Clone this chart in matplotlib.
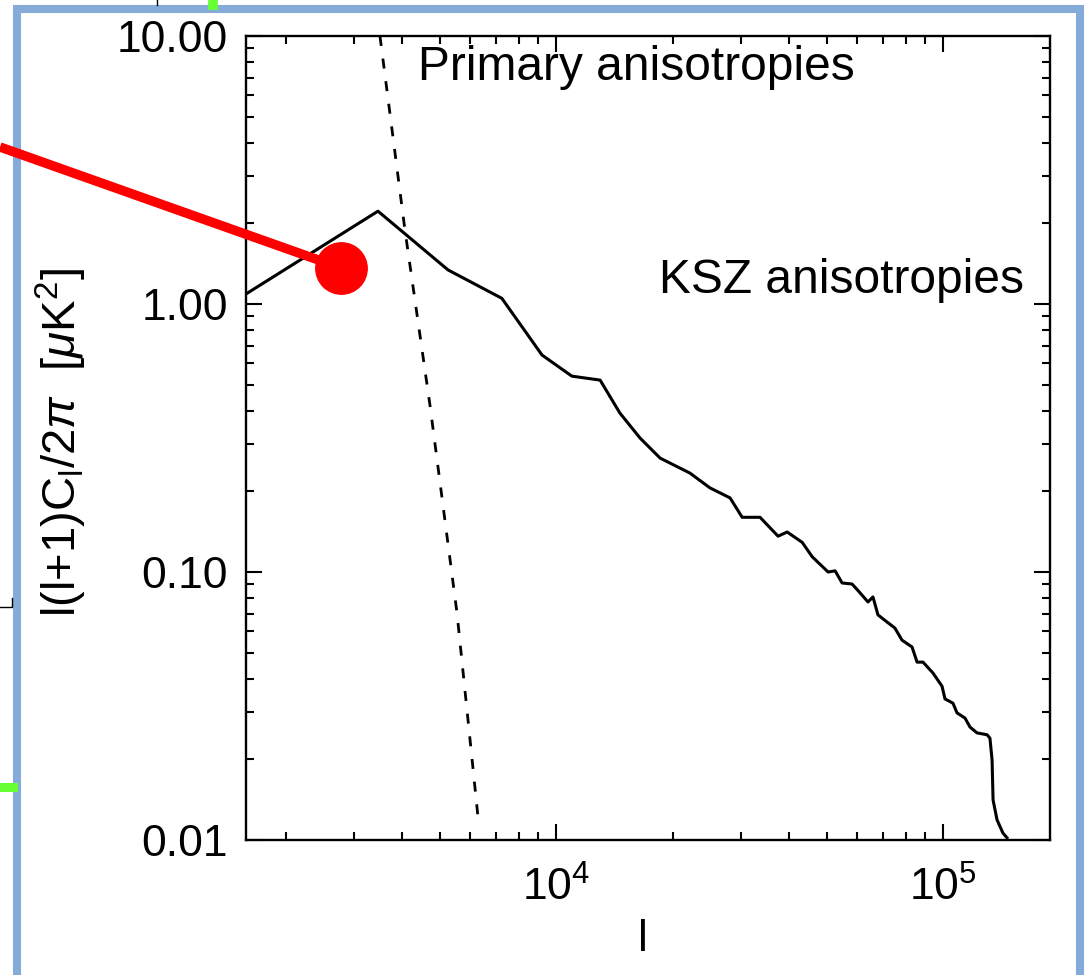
import numpy as np
import matplotlib.pyplot as plt
from matplotlib.lines import Line2D
from matplotlib.ticker import FixedLocator, FuncFormatter, NullFormatter, LogLocator

plt.rcParams['font.family'] = 'Liberation Sans'
plt.rcParams['mathtext.fontset'] = 'custom'
plt.rcParams['mathtext.rm'] = 'Liberation Sans'
plt.rcParams['mathtext.it'] = 'Liberation Sans:italic'

# KSZ spectrum (solid)
ksz_l = [1581, 3467, 5260, 7245, 9200, 10990, 13000, 14620, 16490, 18580,
         22180, 24990, 28170, 30270, 33670, 37480, 39560, 43270, 45920, 50470,
         52630, 54860, 58210, 61100, 63990, 65920, 67900, 71640, 75100, 78340,
         83170, 85700, 88780, 94180, 99400, 101200, 106100, 108700, 114000, 117400,
         122400, 130000, 132200, 133900, 134700, 137900, 142900, 146300]
ksz_cl = [1.09, 2.22, 1.34, 1.05, 0.645, 0.538, 0.520, 0.392, 0.316, 0.266,
          0.234, 0.206, 0.189, 0.160, 0.160, 0.136, 0.141, 0.129, 0.114, 0.100,
          0.101, 0.0910, 0.0902, 0.0835, 0.0773, 0.0807, 0.0692, 0.0651, 0.0618, 0.0557,
          0.0525, 0.0461, 0.0461, 0.0420, 0.0375, 0.0336, 0.0324, 0.0298, 0.0285, 0.0264,
          0.0251, 0.0247, 0.0240, 0.0199, 0.0141, 0.0119, 0.0106, 0.0102]

# primary anisotropies (dashed)
prim_l = [3508, 4070, 4723, 5548, 6286]
prim_cl = [10.0, 1.89, 0.420, 0.0703, 0.0122]

ytick_vals = [0.01, 0.1, 1.0, 10.0]

W, H = 1085, 975
fig = plt.figure(figsize=(W / 100, H / 100), dpi=100)
ax = fig.add_axes([246 / W, 1 - 840 / H, 804 / W, 804 / H])

ax.plot(ksz_l, ksz_cl, color='black', lw=2.2)
ax.plot(prim_l, prim_cl, color='black', lw=2.0, linestyle=(0, (3.6, 4.6)))

ax.set_xscale('log')
ax.set_yscale('log')
ax.set_xlim(1581, 189000)
ax.set_ylim(0.01, 10)

ax.yaxis.set_major_locator(FixedLocator(ytick_vals))
ax.yaxis.set_major_formatter(FuncFormatter(lambda v, p: '%.2f' % v))
ax.yaxis.set_minor_locator(LogLocator(base=10, subs=np.arange(2, 10)))
ax.yaxis.set_minor_formatter(NullFormatter())
ax.xaxis.set_minor_formatter(NullFormatter())

ax.tick_params(which='both', direction='in', top=True, right=True, width=1.5,
               labelsize=32)
ax.tick_params(which='major', length=11.5)
ax.tick_params(which='minor', length=5.5)
ax.tick_params(axis='y', pad=13)
ax.tick_params(axis='x', pad=19)
for s in ax.spines.values():
    s.set_linewidth(1.7)

ax.set_xlabel('l', fontsize=32, va='center')
ax.xaxis.set_label_coords(0.494, -0.124)
ax.set_ylabel(r'l(l+1)C$_\mathrm{l}$/2$\pi$  [$\mu$K$^2$]', fontsize=34, va='center')
ax.yaxis.set_label_coords(-0.229, 0.495)

ax.text(0.214, 0.945, 'Primary anisotropies', transform=ax.transAxes,
        fontsize=34.5, va='baseline', ha='left')
ax.text(0.514, 0.680, 'KSZ anisotropies', transform=ax.transAxes,
        fontsize=34.5, va='baseline', ha='left')


def px(xs, ys):
    return [x / W for x in xs], [1 - y / H for y in ys]


# slide decorations
bx, by = px([17, 17, 1080, 1080], [980, 9, 9, 980])
fig.add_artist(Line2D(bx, by, color='#85acd8', lw=5.8, solid_joinstyle='miter'))
gx, gy = px([213, 213], [0, 5])
fig.add_artist(Line2D(gx, gy, color='#66ff33', lw=7))
gx, gy = px([0, 13], [787, 787])
fig.add_artist(Line2D(gx, gy, color='#66ff33', lw=6.5))
kx, ky = px([157, 157], [0, 5])
fig.add_artist(Line2D(kx, ky, color='black', lw=1))
kx, ky = px([0, 12, 12], [607, 607, 598])
fig.add_artist(Line2D(kx, ky, color='black', lw=1))

# red pointer
rx, ry = px([0, 341], [147, 268])
fig.add_artist(Line2D(rx, ry, color='#ff0000', lw=6.8, solid_capstyle='butt'))
dx, dy = px([341], [268])
fig.add_artist(Line2D(dx, dy, color='#ff0000', marker='o', markersize=37, lw=0))

fig.savefig('out.png', dpi=100)
